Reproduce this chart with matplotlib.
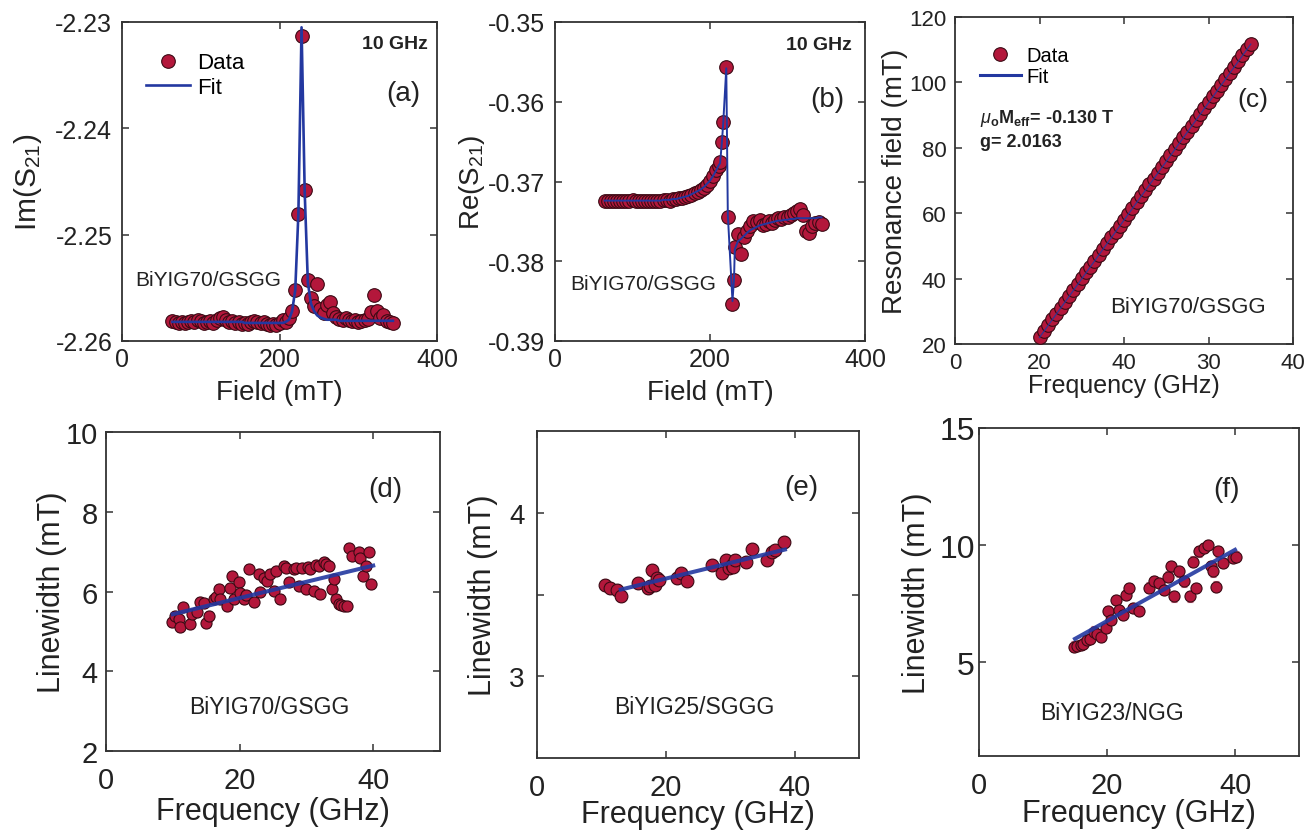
import matplotlib
matplotlib.use("Agg")
import matplotlib.pyplot as plt

plt.rcParams["font.family"] = ["Liberation Sans", "DejaVu Sans"]
plt.rcParams["mathtext.fontset"] = "custom"
plt.rcParams["mathtext.rm"] = "Liberation Sans"
plt.rcParams["mathtext.it"] = "Liberation Sans:italic"
plt.rcParams["mathtext.bf"] = "Liberation Sans:bold"
plt.rcParams["axes.unicode_minus"] = False

# ---------------- (a) Im(S21) at 10 GHz ----------------
field_a = [64, 68, 72, 76, 80, 84, 88, 92, 96, 100, 104, 108, 112, 116, 120, 124,
           128, 132, 136, 140, 144, 148, 152, 156, 160, 164, 168, 172, 176, 180,
           184, 188, 192, 196, 200, 204, 208, 212, 216, 220, 224, 228, 232, 236,
           240, 244, 248, 252, 256, 260, 264, 268, 272, 276, 280, 284, 288, 292,
           296, 300, 304, 308, 312, 316, 320, 324, 328, 332, 336, 340, 344]
im_data = [-2.2581, -2.2582, -2.2583, -2.2582, -2.2583, -2.2582, -2.2581, -2.2582,
           -2.2580, -2.2581, -2.2583, -2.2582, -2.2581, -2.2583, -2.2580, -2.2578,
           -2.2577, -2.2580, -2.2582, -2.2581, -2.2583, -2.2582, -2.2584, -2.2583,
           -2.2584, -2.2582, -2.2581, -2.2582, -2.2583, -2.2582, -2.2584, -2.2585,
           -2.2584, -2.2585, -2.2583, -2.2580, -2.2582, -2.2578, -2.2572, -2.2552,
           -2.2481, -2.2313, -2.2458, -2.2543, -2.2560, -2.2567, -2.2546, -2.2570,
           -2.2574, -2.2566, -2.2563, -2.2574, -2.2577, -2.2579, -2.2580, -2.2578,
           -2.2580, -2.2581, -2.2580, -2.2582, -2.2581, -2.2580, -2.2579, -2.2573,
           -2.2557, -2.2572, -2.2578, -2.2576, -2.2581, -2.2582, -2.2583]
im_fit = [-2.2582, -2.2582, -2.2582, -2.2582, -2.2582, -2.2582, -2.2582, -2.2582,
          -2.2582, -2.2582, -2.2582, -2.2582, -2.2582, -2.2582, -2.2582, -2.2582,
          -2.2582, -2.2582, -2.2582, -2.2582, -2.2582, -2.2582, -2.2582, -2.2583,
          -2.2583, -2.2583, -2.2583, -2.2583, -2.2583, -2.2583, -2.2583, -2.2583,
          -2.2583, -2.2583, -2.2583, -2.2583, -2.2582, -2.2580, -2.2572, -2.2552,
          -2.2480, -2.2305, -2.2460, -2.2545, -2.2565, -2.2572, -2.2576, -2.2578,
          -2.2579, -2.2580, -2.2580, -2.2580, -2.2580, -2.2581, -2.2581, -2.2581,
          -2.2581, -2.2581, -2.2581, -2.2581, -2.2581, -2.2581, -2.2581, -2.2581,
          -2.2581, -2.2581, -2.2581, -2.2581, -2.2581, -2.2581, -2.2581]

# ---------------- (b) Re(S21) at 10 GHz ----------------
field_b = [64, 68, 72, 76, 80, 84, 88, 92, 96, 100, 104, 108, 112, 116, 120, 124,
           128, 132, 136, 140, 144, 148, 152, 156, 160, 164, 168, 172, 176, 180,
           184, 188, 192, 196, 200, 204, 208, 211, 213, 215, 217, 221, 223, 229,
           231, 232, 236, 240, 244, 248, 252, 256, 260, 264, 268, 272, 276, 280,
           284, 288, 292, 296, 300, 304, 308, 312, 316, 320, 324, 328, 332, 336,
           340, 344]
re_data = [-0.3725, -0.3724, -0.3725, -0.3724, -0.3725, -0.3724, -0.3724, -0.3725,
           -0.3724, -0.3723, -0.3724, -0.3725, -0.3724, -0.3724, -0.3725, -0.3724,
           -0.3724, -0.3725, -0.3724, -0.3723, -0.3723, -0.3724, -0.3722, -0.3722,
           -0.3721, -0.3721, -0.3720, -0.3718, -0.3717, -0.3715, -0.3713, -0.3711,
           -0.3708, -0.3704, -0.3699, -0.3693, -0.3686, -0.3680, -0.3675, -0.3651,
           -0.3625, -0.3556, -0.3745, -0.3854, -0.3824, -0.3782, -0.3766, -0.3791,
           -0.3770, -0.3762, -0.3756, -0.3750, -0.3751, -0.3748, -0.3755, -0.3753,
           -0.3750, -0.3752, -0.3748, -0.3746, -0.3747, -0.3744, -0.3745, -0.3742,
           -0.3740, -0.3737, -0.3734, -0.3742, -0.3762, -0.3765, -0.3756, -0.3752,
           -0.3751, -0.3753]
re_fit = [-0.3724, -0.3724, -0.3724, -0.3724, -0.3724, -0.3724, -0.3724, -0.3724,
          -0.3724, -0.3724, -0.3724, -0.3724, -0.3724, -0.3724, -0.3724, -0.3724,
          -0.3724, -0.3724, -0.3724, -0.3723, -0.3723, -0.3723, -0.3722, -0.3722,
          -0.3721, -0.3720, -0.3719, -0.3718, -0.3716, -0.3714, -0.3712, -0.3710,
          -0.3707, -0.3703, -0.3699, -0.3693, -0.3686, -0.3680, -0.3677, -0.3655,
          -0.3628, -0.3558, -0.3742, -0.3850, -0.3822, -0.3785, -0.3775, -0.3772,
          -0.3768, -0.3764, -0.3761, -0.3759, -0.3757, -0.3755, -0.3754, -0.3753,
          -0.3752, -0.3751, -0.3750, -0.3749, -0.3749, -0.3748, -0.3748, -0.3747,
          -0.3747, -0.3746, -0.3746, -0.3746, -0.3746, -0.3746, -0.3746, -0.3746,
          -0.3745, -0.3745]

# ---------------- (c) resonance field vs frequency ----------------
freq_c = [10.0, 10.5, 11.0, 11.5, 12.0, 12.5, 13.0, 13.5, 14.0, 14.5, 15.0, 15.5,
          16.0, 16.5, 17.0, 17.5, 18.0, 18.5, 19.0, 19.5, 20.0, 20.5, 21.0, 21.5,
          22.0, 22.5, 23.0, 23.5, 24.0, 24.5, 25.0, 25.5, 26.0, 26.5, 27.0, 27.5,
          28.0, 28.5, 29.0, 29.5, 30.0, 30.5, 31.0, 31.5, 32.0, 32.5, 33.0, 33.5,
          34.0, 34.5, 35.0]
hres_c = [22.1, 23.9, 25.7, 27.5, 29.3, 31.1, 32.9, 34.7, 36.5, 38.3, 40.1, 41.9,
          43.7, 45.5, 47.3, 49.0, 50.8, 52.6, 54.4, 56.2, 58.0, 59.8, 61.6, 63.4,
          65.2, 67.0, 68.8, 70.6, 72.4, 74.2, 76.0, 77.8, 79.6, 81.4, 83.2, 84.9,
          86.7, 88.5, 90.3, 92.1, 93.9, 95.7, 97.5, 99.3, 101.1, 102.9, 104.7, 106.5,
          108.3, 110.1, 111.6]
fit_c_freq = [10.0, 35.0]
fit_c_hres = [22.0, 111.7]
c_xticks = [0, 10, 20, 30, 40]
c_xticklabels = ["0", "20", "40", "30", "40"]

# ---------------- (d) BiYIG70/GSGG linewidth ----------------
freq_d = [9.9, 10.4, 10.9, 11.1, 11.5, 12.6, 12.9, 13.6, 14.1, 14.6, 15.0, 15.4,
          16.1, 16.5, 16.9, 17.1, 18.1, 18.6, 18.9, 19.1, 19.9, 20.1, 20.6, 21.0,
          21.4, 22.1, 22.9, 23.1, 23.6, 24.1, 24.6, 25.1, 25.4, 26.1, 26.6, 26.9,
          27.4, 28.1, 28.5, 28.9, 29.4, 29.9, 30.2, 30.6, 31.1, 31.5, 31.9, 32.1,
          32.6, 32.9, 33.4, 33.9, 34.1, 34.4, 34.9, 35.2, 35.6, 36.1, 36.4, 36.9,
          37.9, 38.0, 38.4, 38.9, 39.4, 39.6]
lw_d = [5.23, 5.39, 5.30, 5.10, 5.60, 5.18, 5.43, 5.48, 5.73, 5.70, 5.21, 5.39,
        5.81, 5.85, 6.06, 5.81, 5.64, 6.10, 6.39, 5.81, 6.23, 5.95, 5.81, 5.90,
        6.56, 5.73, 6.44, 5.98, 6.35, 6.27, 6.45, 6.02, 6.52, 5.81, 6.65, 6.60,
        6.23, 6.56, 6.60, 6.14, 6.60, 6.06, 6.62, 6.56, 6.02, 6.66, 6.65, 5.93,
        6.73, 6.70, 6.65, 6.06, 6.31, 5.81, 5.68, 5.66, 5.64, 5.64, 7.10, 6.90,
        6.98, 6.85, 6.39, 6.65, 6.98, 6.18]
err_d = 0.12
fit_d_freq = [10.0, 40.0]
fit_d_lw = [5.43, 6.65]

# ---------------- (e) BiYIG25/SGGG linewidth ----------------
freq_e = [10.6, 11.4, 12.4, 13.1, 15.7, 17.3, 17.6, 17.8, 18.4, 18.6, 18.9, 21.7,
          22.3, 23.3, 27.2, 28.7, 29.3, 29.8, 30.3, 30.5, 30.8, 32.4, 33.4, 35.7,
          36.5, 37.0, 38.3]
lw_e = [3.557, 3.54, 3.53, 3.49, 3.57, 3.54, 3.55, 3.65, 3.56, 3.60, 3.59, 3.60,
        3.63, 3.58, 3.68, 3.63, 3.71, 3.66, 3.68, 3.67, 3.71, 3.70, 3.78, 3.71,
        3.76, 3.77, 3.82]
err_e = 0.035
fit_e_freq = [13.0, 38.5]
fit_e_lw = [3.53, 3.775]

# ---------------- (f) BiYIG23/NGG linewidth ----------------
freq_f = [14.8, 15.3, 15.9, 16.3, 16.9, 17.4, 17.9, 18.5, 19.0, 19.8, 20.1, 20.6,
          21.4, 21.9, 22.5, 22.9, 23.4, 24.0, 25.0, 26.5, 27.4, 28.2, 28.9, 29.5,
          30.0, 30.5, 31.3, 32.1, 32.9, 33.4, 33.9, 34.4, 35.2, 35.8, 36.3, 36.6,
          37.0, 37.3, 38.1, 39.7, 40.2]
lw_f = [5.67, 5.70, 5.74, 5.80, 5.95, 6.00, 6.31, 6.20, 6.10, 6.45, 7.17, 6.81,
        7.66, 7.23, 7.02, 7.88, 8.16, 7.31, 7.19, 8.19, 8.47, 8.38, 8.09, 8.66,
        9.09, 7.81, 8.88, 8.45, 7.81, 9.30, 8.16, 9.73, 9.87, 10.01, 9.09, 8.88,
        8.23, 9.73, 9.23, 9.44, 9.51]
err_f = 0.22
fit_f_freq = [15.0, 40.0]
fit_f_lw = [6.0, 9.8]

# ---------------- styling ----------------
RED = "#b3173b"
EDGE = "#3a0a14"
BLUE = "#2338a0"
ERR = "#c46a82"
INK = "#222222"
SPINE = "#333333"

W, H = 1315, 837
fig = plt.figure(figsize=(W / 100, H / 100), dpi=100)


def make_axes(x0, x1, y0, y1):
    return fig.add_axes([x0 / W, 1 - y1 / H, (x1 - x0) / W, (y1 - y0) / H])


def style(ax, xsize, ysize, xpad, ypad):
    for s in ax.spines.values():
        s.set_color(SPINE)
        s.set_linewidth(1.3)
    ax.tick_params(direction="in", top=True, right=True, length=5, width=1.1,
                   color=SPINE, labelcolor=INK)
    ax.tick_params(axis="x", labelsize=xsize, pad=xpad)
    ax.tick_params(axis="y", labelsize=ysize, pad=ypad)


def labels(ax, xl, yl, xsize, ysize, xy, yx):
    ax.set_xlabel(xl, fontsize=xsize, color=INK)
    ax.set_ylabel(yl, fontsize=ysize, color=INK)
    ax.xaxis.set_label_coords(0.5, xy)
    ax.xaxis.label.set_va("baseline")
    ax.yaxis.set_label_coords(yx, 0.5)
    ax.yaxis.label.set_va("baseline")


def note(ax, x, y, s, size, ha="left", weight="normal"):
    ax.text(x, y, s, transform=ax.transAxes, fontsize=size, ha=ha, va="center",
            color=INK, fontweight=weight)


# (a)
ax = make_axes(122, 437, 23, 342)
ax.plot(field_a, im_data, "o", ms=9.8, mfc=RED, mec=EDGE, mew=0.8, label="Data", zorder=3)
ax.plot(field_a, im_fit, "-", color=BLUE, lw=1.9, label="Fit", zorder=4)
ax.set_xlim(0, 400)
ax.set_ylim(-2.26, -2.23)
ax.set_xticks([0, 200, 400])
ax.set_yticks([-2.26, -2.25, -2.24, -2.23])
ax.set_yticklabels(["-2.26", "-2.25", "-2.24", "-2.23"])
style(ax, 18, 18, 4, 7)
labels(ax, "Field (mT)", "Im(S$_{21}$)", 20, 21.5, -0.182, -0.272)
ax.legend(loc="upper left", bbox_to_anchor=(0.075, 0.905), frameon=False, fontsize=16,
          handlelength=2.0, handletextpad=0.3, labelspacing=0.15, borderpad=0,
          borderaxespad=0, numpoints=1)
note(ax, 0.971, 0.934, "10 GHz", 14, ha="right", weight="bold")
note(ax, 0.946, 0.777, "(a)", 20, ha="right")
note(ax, 0.041, 0.194, "BiYIG70/GSGG", 15)

# (b)
ax = make_axes(555, 865, 23, 342)
ax.plot(field_b, re_data, "o", ms=9.8, mfc=RED, mec=EDGE, mew=0.8, zorder=3)
ax.plot(field_b, re_fit, "-", color=BLUE, lw=1.4, zorder=4)
ax.set_xlim(0, 400)
ax.set_ylim(-0.39, -0.35)
ax.set_xticks([0, 200, 400])
ax.set_yticks([-0.39, -0.38, -0.37, -0.36, -0.35])
ax.set_yticklabels(["-0.39", "-0.38", "-0.37", "-0.36", "-0.35"])
style(ax, 18, 18, 4, 7)
labels(ax, "Field (mT)", "Re(S$_{21}$)", 20, 20, -0.182, -0.245)
note(ax, 0.958, 0.931, "10 GHz", 14, ha="right", weight="bold")
note(ax, 0.935, 0.759, "(b)", 20, ha="right")
note(ax, 0.048, 0.179, "BiYIG70/GSGG", 15)

# (c)
ax = make_axes(955, 1293, 18, 345)
ax.plot(freq_c, hres_c, "o", ms=9.8, mfc=RED, mec=EDGE, mew=0.8, label="Data", zorder=3)
ax.plot(fit_c_freq, fit_c_hres, "-", color=BLUE, lw=1.0, alpha=0.8, zorder=4)
ax.plot([], [], "-", color=BLUE, lw=2.2, label="Fit")
ax.set_xlim(0, 40)
ax.set_ylim(20, 120)
ax.set_xticks(c_xticks)
ax.set_xticklabels(c_xticklabels)
ax.set_yticks([20, 40, 60, 80, 100, 120])
style(ax, 16, 16, 6, 6)
labels(ax, "Frequency (GHz)", "Resonance field (mT)", 18, 20, -0.147, -0.157)
ax.legend(loc="upper left", bbox_to_anchor=(0.075, 0.912), frameon=False, fontsize=14.5,
          handlelength=2.0, handletextpad=0.3, labelspacing=0.1, borderpad=0,
          borderaxespad=0, numpoints=1)
note(ax, 0.926, 0.749, "(c)", 19, ha="right")
note(ax, 0.459, 0.116, "BiYIG70/GSGG", 16)
note(ax, 0.074, 0.694, r"$\mu_\mathbf{o}\mathbf{M}_\mathbf{eff}$= -0.130 T", 13, weight="bold")
note(ax, 0.074, 0.618, "g= 2.0163", 13, weight="bold")


def linewidth_panel(rect, freq, lw, err, ffreq, flw, ylim, yticks, ytl, ms,
                    tag, tagxy, sample, samplexy, xlab_y, ylab_x, ypad, tsize):
    ax = make_axes(*rect)
    ax.errorbar(freq, lw, yerr=err, fmt="o", ms=ms, mfc=RED, mec=EDGE, mew=0.8,
                ecolor=ERR, elinewidth=0.8, capsize=2, capthick=0.8, zorder=3)
    ax.plot(ffreq, flw, "-", color=BLUE, lw=2.9, alpha=0.9, zorder=4)
    ax.set_xlim(0, 50)
    ax.set_ylim(*ylim)
    ax.set_xticks([0, 20, 40])
    ax.set_yticks(yticks)
    ax.set_yticklabels(ytl)
    style(ax, 21, tsize, 11, ypad)
    labels(ax, "Frequency (GHz)", "Linewidth (mT)", 22, 22, xlab_y, ylab_x)
    note(ax, tagxy[0], tagxy[1], tag, 20, ha="right")
    note(ax, samplexy[0], samplexy[1], sample, 16.5)
    return ax


linewidth_panel((106, 440, 433, 752), freq_d, lw_d, err_d, fit_d_freq, fit_d_lw,
                (2, 10), [2, 4, 6, 8, 10], ["2", "4", "6", "8", "10"], 8,
                "(d)", (0.886, 0.821), "BiYIG70/GSGG", (0.249, 0.141), -0.213, -0.138, 6, 21)
linewidth_panel((537, 859, 432, 759), freq_e, lw_e, err_e, fit_e_freq, fit_e_lw,
                (2.5, 4.5), [3, 3.5, 4], ["3", "", "4"], 9.2,
                "(e)", (0.873, 0.829), "BiYIG25/SGGG", (0.238, 0.159), -0.196, -0.142, 9, 20)
linewidth_panel((979, 1299, 429, 757), freq_f, lw_f, err_f, fit_f_freq, fit_f_lw,
                (1, 15), [5, 10, 15], ["5", "10", "15"], 8,
                "(f)", (0.816, 0.814), "BiYIG23/NGG", (0.19, 0.134), -0.198, -0.169, 3, 23)

fig.savefig("out.png", dpi=100)
